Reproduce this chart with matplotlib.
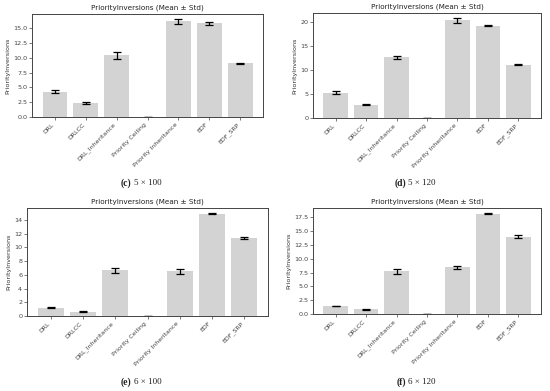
import matplotlib
matplotlib.use("Agg")
import matplotlib.pyplot as plt
import numpy as np

categories = ["DRL", "DRLCC", "DRL_Inheritance", "Priority Ceiling",
              "Priority Inheritance", "EDF", "EDF_SRP"]

# panel (c) 5 x 100
c_mean = [4.25, 2.35, 10.45, 0.0, 16.2, 15.85, 9.1]
c_std = [0.25, 0.2, 0.6, 0.0, 0.4, 0.2, 0.1]
# panel (d) 5 x 120
d_mean = [5.3, 2.75, 12.65, 0.0, 20.4, 19.3, 11.1]
d_std = [0.35, 0.1, 0.3, 0.0, 0.5, 0.1, 0.1]
# panel (e) 6 x 100
e_mean = [1.2, 0.65, 6.65, 0.0, 6.5, 14.9, 11.35]
e_std = [0.1, 0.05, 0.35, 0.0, 0.4, 0.07, 0.2]
# panel (f) 6 x 120
f_mean = [1.45, 0.85, 7.7, 0.0, 8.45, 18.15, 14.0]
f_std = [0.08, 0.04, 0.4, 0.0, 0.25, 0.1, 0.25]

panel_letters = ["c", "d", "e", "f"]
panel_sizes = ["5 × 100", "5 × 120", "6 × 100", "6 × 120"]
title = "PriorityInversions (Mean ± Std)"
ylabel = "PriorityInversions"

W, H = 550, 391
fig = plt.figure(figsize=(W / 100, H / 100), dpi=100)


def rect(l, t, r, b):
    return [l / W, 1 - b / H, (r - l) / W, (b - t) / H]


rects = [rect(32, 14, 263, 117), rect(313, 13, 541, 118),
         rect(27, 208, 268, 316), rect(313, 208, 541, 314)]
yticks = [np.arange(0, 17.6, 2.5), np.arange(0, 21, 5),
          np.arange(0, 15, 2), np.arange(0, 17.6, 2.5)]
fmts = ["{:.1f}", "{:.0f}", "{:.0f}", "{:.1f}"]
data = [(c_mean, c_std), (d_mean, d_std), (e_mean, e_std), (f_mean, f_std)]
cap_pos = [(137.5, 183), (412.5, 183), (137.5, 382), (412.5, 382)]

spine_col = "#444444"
for i, (m, s) in enumerate(data):
    ax = fig.add_axes(rects[i])
    x = np.arange(len(categories))
    ax.bar(x, m, yerr=s, color="#d3d3d3", width=0.8, capsize=3,
           error_kw=dict(elinewidth=0.9, capthick=0.9, ecolor="black"))
    ax.set_xticks(x)
    ax.set_xticklabels(categories, rotation=45, ha="right", fontsize=4.5,
                       color="#333333")
    ax.set_yticks(yticks[i])
    ax.set_yticklabels([fmts[i].format(v) for v in yticks[i]], fontsize=4.6,
                       color="#333333")
    ax.set_ylim(0, (max(np.array(m) + np.array(s))) * 1.05)
    ax.set_title(title, fontsize=5.2, pad=3, color="#222222")
    ax.set_ylabel(ylabel, fontsize=4.6, labelpad=2, color="#333333")
    ax.tick_params(length=2, width=0.5, pad=1.5, colors=spine_col)
    for sp in ax.spines.values():
        sp.set_color(spine_col)
        sp.set_linewidth(0.7)

    cx, cy = cap_pos[i]
    fig.text((cx - 6) / W, 1 - cy / H, "(" + panel_letters[i] + ")",
             ha="right", va="center", fontsize=7, fontweight="bold",
             family="Liberation Serif", color="#222222")
    fig.text((cx - 4) / W, 1 - cy / H, panel_sizes[i],
             ha="left", va="center", fontsize=6.5,
             family="Liberation Serif", color="#222222")

fig.savefig("out.png", dpi=100)
